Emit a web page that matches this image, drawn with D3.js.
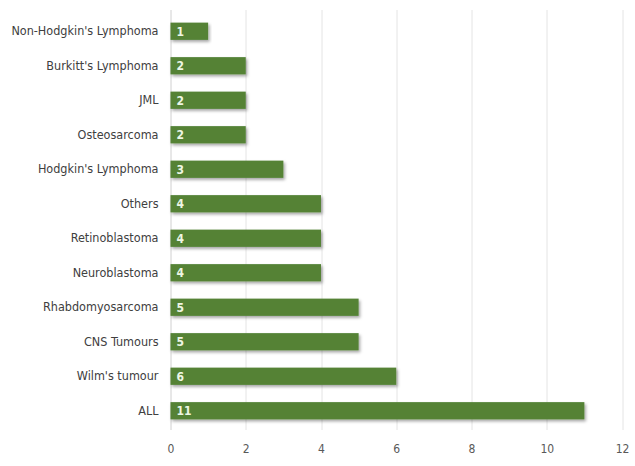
<!DOCTYPE html>
<html>
<head>
<meta charset="utf-8">
<script src="https://cdn.jsdelivr.net/npm/d3@7"></script>
<style>
    body { margin: 0; background: #fff; }
    .chart { width: 635px; height: 466px; }
    text { font-family: 'Liberation Sans Narrow', 'DejaVu Sans Condensed', 'Open Sans', sans-serif; }
</style>
</head>
<body>
<div class="chart"></div>
<script>
const categories = ["Non-Hodgkin's Lymphoma", "Burkitt's Lymphoma", 'JML', 'Osteosarcoma',
    "Hodgkin's Lymphoma", 'Others', 'Retinoblastoma', 'Neuroblastoma', 'Rhabdomyosarcoma',
    'CNS Tumours', "Wilm's tumour", 'ALL'];
const counts = [1, 2, 2, 2, 3, 4, 4, 4, 5, 5, 6, 11];
const tickValues = [0, 2, 4, 6, 8, 10, 12];

(function () {
    'use strict';

    const margin = { top: 14, left: 170.5, right: 13, bottom: 38 };
    const totalW = 635, totalH = 466;
    const width = totalW - margin.left - margin.right;
    const height = totalH - margin.top - margin.bottom;

    const svg = d3.select('.chart').append('svg')
        .attr('width', totalW)
        .attr('height', totalH);

    const defs = svg.append('defs');
    const filter = defs.append('filter').attr('id', 'shadow')
        .attr('x', '-5%').attr('y', '-30%').attr('width', '115%').attr('height', '180%');
    filter.append('feDropShadow')
        .attr('dx', 1.5).attr('dy', 2).attr('stdDeviation', 1.6)
        .attr('flood-color', '#000').attr('flood-opacity', 0.35);

    const holder = svg.append('g').attr('transform', 'translate(' + margin.left + ', ' + margin.top + ')');

    const x = d3.scaleLinear().domain([0, 12]).range([0, width]);
    const y = d3.scaleBand().domain(categories).range([0, height]).paddingInner(0.5).paddingOuter(0.25);

    // gridlines
    holder.append('g').selectAll('line')
        .data(tickValues)
        .enter().append('line')
        .attr('x1', function (d) { return Math.round(x(d)) + 0.5; })
        .attr('x2', function (d) { return Math.round(x(d)) + 0.5; })
        .attr('y1', -4)
        .attr('y2', height + 2)
        .attr('stroke', function (d) { return d === 0 ? '#d0d0d0' : '#e4e4e4'; })
        .attr('stroke-width', 1);

    // bars
    holder.append('g').selectAll('rect')
        .data(counts)
        .enter().append('rect')
        .attr('x', x(0))
        .attr('y', function (d, i) { return y(categories[i]); })
        .attr('width', function (d) { return x(d) - x(0); })
        .attr('height', y.bandwidth())
        .attr('fill', '#548235')
        .attr('filter', 'url(#shadow)');

    // value labels
    holder.append('g').selectAll('text')
        .data(counts)
        .enter().append('text')
        .attr('x', x(0) + 6)
        .attr('y', function (d, i) { return y(categories[i]) + y.bandwidth() / 2; })
        .attr('dy', '0.36em')
        .attr('fill', '#eef6e4')
        .style('font-size', '12px')
        .style('font-weight', 'bold')
        .text(function (d) { return d; });

    // category labels
    const yAxis = d3.axisLeft(y).tickSize(0).tickPadding(12);
    holder.append('g')
        .call(yAxis)
        .call(function (g) { g.select('.domain').remove(); })
        .call(function (g) {
            g.selectAll('text').style('font-size', '12.5px').attr('fill', '#404040');
        });

    // x axis labels
    const xAxis = d3.axisBottom(x).tickValues(tickValues).tickSize(0).tickPadding(16);
    holder.append('g').attr('transform', 'translate(0, ' + height + ')')
        .call(xAxis)
        .call(function (g) { g.select('.domain').remove(); })
        .call(function (g) {
            g.selectAll('text').style('font-size', '12px').attr('fill', '#595959');
        });
}());
</script>
</body>
</html>
